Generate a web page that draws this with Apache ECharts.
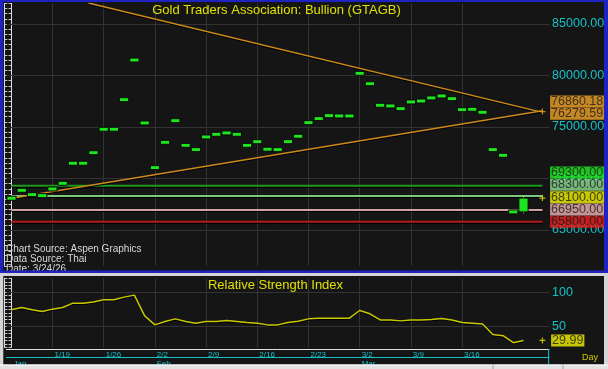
<!DOCTYPE html>
<html><head><meta charset="utf-8">
<script src="https://cdn.jsdelivr.net/npm/echarts@6/dist/echarts.min.js"></script>
<style>html,body{margin:0;padding:0;background:#151515;}#c{width:608px;height:369px;}</style>
</head><body><div id="c"></div>
<script>
// ---------- DATA ----------
const dates = ['1/13','1/14','1/15','1/16','1/19','1/20','1/21','1/22','1/23','1/26','1/27','1/28','1/29','1/30',
  '2/2','2/3','2/4','2/5','2/6','2/9','2/10','2/11','2/12','2/13','2/16','2/17','2/18','2/19','2/20',
  '2/23','2/24','2/25','2/26','2/27','3/2','3/3','3/4','3/5','3/6','3/9','3/10','3/11','3/12','3/13',
  '3/16','3/17','3/18','3/19','3/20','3/23','3/24','3/25','3/26'];
const closes = [68080,68850,68430,68330,68980,69530,71480,71480,72500,74780,74780,77650,81500,75390,
  71050,73510,75610,73220,72800,74030,74290,74420,74290,73220,73570,72840,72800,73570,74100,
  75420,75810,76100,76070,76070,80210,79200,77110,77040,76780,77430,77520,77820,78010,77750,
  76680,76720,76430,72800,72250,66750,68100];
const lastOpen = 66750, lastLow = 66620, lastHigh = 68230;
const rsi = [74.3,77.6,74.3,71.8,75.3,77.6,84,84,85.5,88.8,88.8,92.7,95.6,65.5,
  52.5,57.3,61.2,57.3,54.9,57.3,57.3,58.7,57.3,55.8,54.9,52.5,52.5,55.8,57.8,
  61.2,62.2,62.2,62.2,62.2,73.3,68.5,59.7,59.7,58.3,59.7,59.7,60.2,61.6,59.7,
  55.8,54.9,53.9,38.4,36.9,26.7,29.99];
const levelValues = [69300, 68300, 66950, 65800];
const upperTrend = [[7.5, 87045], [51.85, 76417]];
const lowerTrend = [[-0.4, 68010], [51.85, 76583]];
const trendLabels = [76860.18, 76279.59];
const weekIdx = [4, 9, 14, 19, 24, 29, 34, 39, 44];
const monthIdx = [0, 14, 34];
const monthNames = ['Jan', 'Feb', 'Mar'];
const priceGrid = [65000, 70000, 75000, 80000, 85000];
const rsiGrid = [50, 100];

// ---------- STYLE ----------
const CYAN = '#14c0c8', FONT = '"Liberation Sans", Arial, sans-serif';
const levelColors = ['#1e9a1e', '#7cc87c', '#cfa0a0', '#b81818'];
const levelBg = ['#22ee22', '#90dc90', '#f0b4b4', '#ec2020'];
const ORANGE = '#cc8a1a';
const TICK = '#c8c8c8';

const chart = echarts.init(document.getElementById('c'), null, {renderer: 'canvas'});

// stacked right-side labels (bottom-anchored)
const lastIdx = closes.length - 1;
const labelItems = [
  {v: levelValues[0], bg: levelBg[0]},
  {v: levelValues[1], bg: levelBg[1]},
  {v: closes[lastIdx], bg: '#f4f400'},
  {v: levelValues[2], bg: levelBg[2]},
  {v: levelValues[3], bg: levelBg[3]},
  {v: trendLabels[0], bg: '#f0a428'},
  {v: trendLabels[1], bg: '#f0a428'}
].sort((a, b) => a.v - b.v);
const GAP = 1194;
let prev = -Infinity;
labelItems.forEach(it => { it.pos = Math.max(it.v, prev + GAP); prev = it.pos; });

function renderBar(params, api) {
  const i = api.value(0);
  const o = api.coord([i, api.value(1)]), c = api.coord([i, api.value(2)]);
  const lo = api.coord([i, api.value(3)]), hi = api.coord([i, api.value(4)]);
  const w = api.size([1, 0])[0] * 0.9;
  let top = Math.min(o[1], c[1]), bot = Math.max(o[1], c[1]);
  if (bot - top < 4) { const m = (top + bot) / 2; top = m - 2; bot = m + 2; }
  const children = [];
  if (hi[1] < top - 0.5 || lo[1] > bot + 0.5) {
    children.push({type: 'line', shape: {x1: o[0], y1: hi[1], x2: o[0], y2: lo[1]}, style: {stroke: '#b8d820', lineWidth: 1}});
  }
  children.push({type: 'rect', shape: {x: o[0] - w / 2, y: top, width: w, height: bot - top},
    style: {fill: '#1ee61e', stroke: '#080808', lineWidth: 1}});
  return {type: 'group', children};
}

const plusPath = 'path://M4,0H6V4H10V6H6V10H4V6H0V4H4Z';
const gridLineStyle = {color: '#333333', width: 1, type: 'solid'};

function priceAxis(pos, withLabels) {
  return {type: 'value', gridIndex: 0, position: pos, offset: pos === 'left' ? 2 : 0, min: 61500, max: 87000, interval: 500,
    axisLine: {show: true, lineStyle: {color: '#e0e0e0'}},
    axisTick: {show: true, inside: true, length: 3, lineStyle: {color: TICK}},
    axisLabel: withLabels ? {formatter: v => (v % 5000 === 0 ? v.toFixed(2) : ''), color: CYAN, fontSize: 12.5, fontFamily: FONT, margin: 3} : {show: false},
    splitLine: {show: false}};
}
function rsiAxis(pos, withLabels) {
  return {type: 'value', gridIndex: 1, position: pos, offset: pos === 'left' ? 2 : 0, min: 20, max: 120, interval: 5,
    axisLine: {show: true, lineStyle: {color: '#e0e0e0'}},
    axisTick: {show: true, inside: true, length: 3, lineStyle: {color: TICK}},
    axisLabel: withLabels ? {formatter: v => (rsiGrid.includes(v) ? String(v) : ''), color: CYAN, fontSize: 12.5, fontFamily: FONT, margin: 3} : {show: false},
    splitLine: {show: false}};
}

const option = {
  backgroundColor: '#151515',
  animation: false,
  grid: [
    {left: 6.4, right: 58.9, top: 3.4, bottom: 103},
    {left: 6.4, right: 58.9, top: 278.3, bottom: 21.7}
  ],
  xAxis: [
    {type: 'value', gridIndex: 0, min: -0.5, max: 52.5, show: false},
    {type: 'value', gridIndex: 1, min: -0.5, max: 52.5, show: false},
    {type: 'category', gridIndex: 1, data: dates, position: 'bottom', offset: 2, boundaryGap: true,
      axisLine: {lineStyle: {color: '#e0e0e0', width: 1}},
      axisTick: {alignWithLabel: true, interval: (i) => weekIdx.includes(i), length: 8, lineStyle: {color: CYAN}},
      axisLabel: {interval: (i) => weekIdx.includes(i), color: CYAN, fontSize: 8, fontFamily: FONT, align: 'left', margin: 1, padding: [0, 0, 0, 2]},
      splitLine: {show: false}},
    {type: 'category', gridIndex: 1, data: dates, position: 'bottom', offset: 10, boundaryGap: true,
      axisLine: {lineStyle: {color: CYAN, width: 1}},
      axisTick: {alignWithLabel: true, interval: (i) => monthIdx.includes(i), length: 8, lineStyle: {color: CYAN}},
      axisLabel: {interval: (i) => monthIdx.includes(i), formatter: (v, i) => monthNames[monthIdx.indexOf(i)] || '',
        color: CYAN, fontSize: 8, fontFamily: FONT, align: 'left', margin: 2, padding: [0, 0, 0, 2]},
      splitLine: {show: false}}
  ],
  yAxis: [priceAxis('right', true), priceAxis('left', false), rsiAxis('right', true), rsiAxis('left', false)],
  series: [
    {type: 'line', xAxisIndex: 0, yAxisIndex: 0, data: [], silent: true,
      markLine: {silent: true, symbol: 'none', z: 1, label: {show: false}, lineStyle: gridLineStyle,
        data: priceGrid.map(v => ({yAxis: v})).concat(weekIdx.map(i => ({xAxis: i})))}},
    {type: 'line', xAxisIndex: 1, yAxisIndex: 2, data: [], silent: true,
      markLine: {silent: true, symbol: 'none', z: 1, label: {show: false}, lineStyle: gridLineStyle,
        data: rsiGrid.map(v => ({yAxis: v})).concat(weekIdx.map(i => ({xAxis: i})))}},
    ...levelValues.map((v, k) => ({type: 'line', xAxisIndex: 0, yAxisIndex: 0, z: 2, silent: true,
      symbol: 'none', data: [[0, v], [51.85, v]], lineStyle: {color: levelColors[k], width: 2,
        shadowColor: '#000', shadowBlur: 0, shadowOffsetY: 1}})),
    ...[upperTrend, lowerTrend].map(t => ({type: 'line', xAxisIndex: 0, yAxisIndex: 0, z: 3, silent: true,
      symbol: 'none', data: t, lineStyle: {color: ORANGE, width: 1.5, shadowColor: '#000', shadowOffsetY: 1}})),
    {type: 'custom', xAxisIndex: 0, yAxisIndex: 0, z: 4, renderItem: renderBar, encode: {x: 0, y: [1, 2]},
      data: closes.map((c, i) => i === lastIdx ? [i, lastOpen, c, lastLow, lastHigh] : [i, c, c, c, c])},
    {type: 'scatter', xAxisIndex: 0, yAxisIndex: 0, z: 6, clip: false, silent: true, symbol: plusPath, symbolSize: 6,
      data: [{value: [51.85, closes[lastIdx]], itemStyle: {color: '#e8e800'}},
             {value: [51.85, (upperTrend[1][1] + lowerTrend[1][1]) / 2], itemStyle: {color: '#f0a428'}}]},
    {type: 'scatter', xAxisIndex: 0, yAxisIndex: 0, z: 8, clip: false, silent: true, symbolSize: 0,
      label: {show: true, position: 'right', distance: 1, fontSize: 12.5, fontFamily: FONT, lineHeight: 12,
        padding: [0, 1, 0, 1], color: '#1a1a1a'},
      data: labelItems.map(it => ({value: [52.5, it.pos], label: {formatter: it.v.toFixed(2), backgroundColor: it.bg}}))},
    {type: 'line', xAxisIndex: 1, yAxisIndex: 2, z: 4, silent: true, symbol: 'none',
      data: rsi.map((v, i) => [i, v]), lineStyle: {color: '#c8c800', width: 1.5, shadowColor: '#000', shadowOffsetY: 1}},
    {type: 'scatter', xAxisIndex: 1, yAxisIndex: 2, z: 6, clip: false, silent: true, symbol: plusPath, symbolSize: 6,
      data: [{value: [51.85, rsi[lastIdx]], itemStyle: {color: '#e8e800'}}]},
    {type: 'scatter', xAxisIndex: 1, yAxisIndex: 2, z: 8, clip: false, silent: true, symbolSize: 0,
      label: {show: true, position: 'right', distance: 2, fontSize: 12.5, fontFamily: FONT, lineHeight: 12,
        padding: [0, 1, 0, 1], color: '#1a1a1a', backgroundColor: '#f4f400', formatter: p => p.value[1].toFixed(2)},
      data: [[52.5, rsi[lastIdx]]]}
  ],
  graphic: [
    {type: 'text', x: 276.5, y: 10, z: 50, silent: true, style: {text: 'Gold Traders Association: Bullion (GTAGB)',
      fill: '#e0e000', font: '13px ' + FONT, align: 'center', verticalAlign: 'middle'}},
    {type: 'text', x: 275.5, y: 285.5, z: 50, silent: true, style: {text: 'Relative Strength Index',
      fill: '#e0e000', font: '13px ' + FONT, align: 'center', verticalAlign: 'middle'}},
    {type: 'text', x: 6, y: 249.5, z: 50, silent: true, style: {text: 'Chart Source: Aspen Graphics', fill: '#d8d8d8',
      font: '10px "Liberation Sans Narrow", "Liberation Sans", Arial', verticalAlign: 'middle'}},
    {type: 'text', x: 6, y: 259.5, z: 50, silent: true, style: {text: 'Data Source: Thai', fill: '#d8d8d8',
      font: '10px "Liberation Sans Narrow", "Liberation Sans", Arial', verticalAlign: 'middle'}},
    {type: 'text', x: 6, y: 269.5, z: 50, silent: true, style: {text: 'Date: 3/24/26', fill: '#d8d8d8',
      font: '10px "Liberation Sans Narrow", "Liberation Sans", Arial', verticalAlign: 'middle'}},
    {type: 'text', x: 582, y: 358, z: 50, silent: true, style: {text: 'Day', fill: '#c8c800',
      font: '9px ' + FONT, verticalAlign: 'middle'}},
    // frame
    {type: 'rect', z: 100, silent: true, shape: {x: 0, y: 0, width: 608, height: 2}, style: {fill: '#1e22c0'}},
    {type: 'rect', z: 100, silent: true, shape: {x: 0, y: 0, width: 3.3, height: 272}, style: {fill: '#1e22c0'}},
    {type: 'rect', z: 100, silent: true, shape: {x: 604, y: 0, width: 4, height: 272}, style: {fill: '#1e22c0'}},
    {type: 'rect', z: 100, silent: true, shape: {x: 0, y: 270.5, width: 608, height: 2.5}, style: {fill: '#1e22c0'}},
    {type: 'rect', z: 100, silent: true, shape: {x: 0, y: 273, width: 608, height: 3}, style: {fill: '#d4d4d4'}},
    {type: 'rect', z: 100, silent: true, shape: {x: 0, y: 273, width: 3.3, height: 96}, style: {fill: '#d4d4d4'}},
    {type: 'rect', z: 100, silent: true, shape: {x: 604, y: 273, width: 4, height: 96}, style: {fill: '#d4d4d4'}},
    {type: 'rect', z: 100, silent: true, shape: {x: 0, y: 364.5, width: 608, height: 4.5}, style: {fill: '#e2e2e2'}},
    {type: 'rect', z: 101, silent: true, shape: {x: 0, y: 364.5, width: 608, height: 1}, style: {fill: '#ffffff'}},
    {type: 'rect', z: 101, silent: true, shape: {x: 492.5, y: 364.5, width: 1, height: 4.5}, style: {fill: '#a0a0a0'}},
    {type: 'rect', z: 101, silent: true, shape: {x: 562.5, y: 364.5, width: 1, height: 4.5}, style: {fill: '#a0a0a0'}},
    {type: 'line', z: 60, silent: true, shape: {x1: 548.6, y1: 349, x2: 548.6, y2: 364}, style: {stroke: CYAN, lineWidth: 1}}
  ]
};
chart.setOption(option);
</script></body></html>
